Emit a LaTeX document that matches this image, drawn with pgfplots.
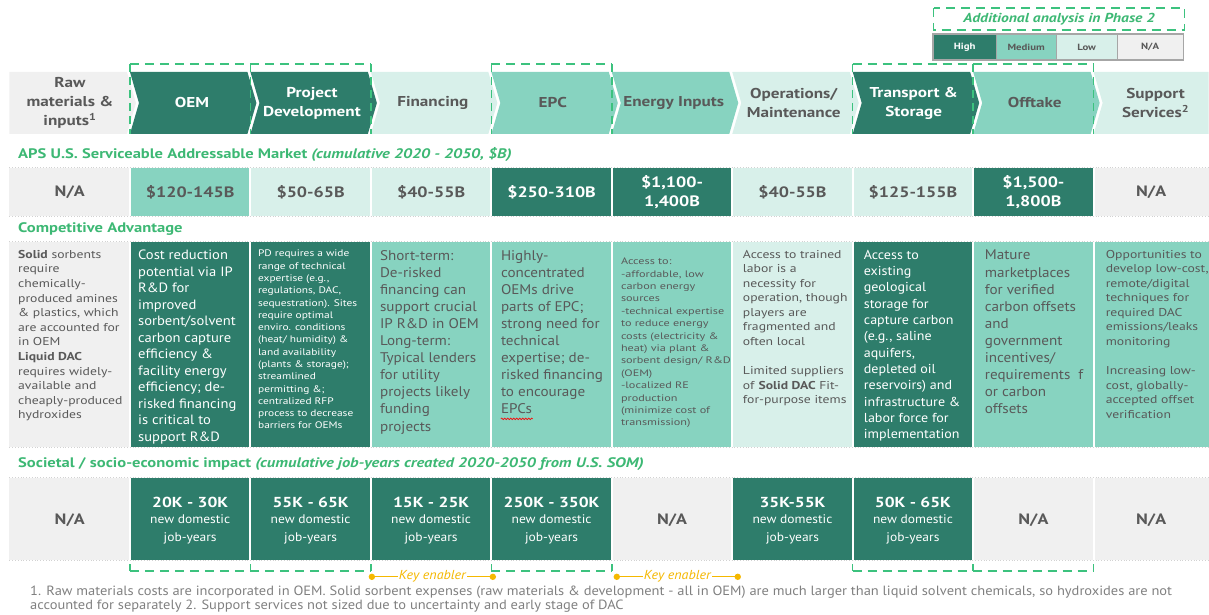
\documentclass[border=0pt]{standalone}
\usepackage{pgfplots}
\pgfplotsset{compat=1.18}
\usepackage{fontspec}
\setmainfont{PT Sans}[FakeStretch=1.08]
\newfontfamily\wf{PT Sans}[FakeStretch=1.2]
\newfontfamily\wwf{PT Sans}[FakeStretch=1.3]
\usetikzlibrary{decorations.pathmorphing}
\definecolor{dk}{HTML}{2E7D6B}
\definecolor{md}{HTML}{87D3C0}
\definecolor{lt}{HTML}{D8F0EA}
\definecolor{gy}{HTML}{F0F0F0}
\definecolor{tx}{HTML}{595959}
\definecolor{gr}{HTML}{3DB874}
\definecolor{dsh}{HTML}{3CC27E}
\definecolor{orng}{HTML}{F5B800}
\definecolor{fn}{HTML}{808080}

\newcommand{\cell}[5]{\fill[#5] (axis cs:#1,#3) rectangle (axis cs:#2,#4);}
\newcommand{\chev}[3]{\fill[#3] (axis cs:#1,72) -- (axis cs:{#2-3},72) -- (axis cs:{#2+6},103) -- (axis cs:{#2-3},134) -- (axis cs:#1,134) -- (axis cs:{#1+9},103) -- cycle;}
\newcommand{\chevtext}[3]{\node[inner sep=0, align=center, text=#2, font=\wf\bfseries\fontsize{14.3}{19}\selectfont] at (axis cs:#1,103) {#3};}
\newcommand{\samtext}[3]{\node[inner sep=0, align=center, text=#2, font=\wf\bfseries\fontsize{15}{19}\selectfont] at (axis cs:#1,192) {#3};}
\newcommand{\jobs}[2]{\node[inner sep=0, text=white, font=\wf\bfseries\fontsize{14.5}{18}\selectfont] at (axis cs:#1,503) {#2};
\node[inner sep=0, text=white, align=center, font=\fontsize{12.5}{18}\selectfont] at (axis cs:#1,530) {new domestic\\job-years};}
\newcommand{\na}[2]{\node[inner sep=0, text=tx, font=\wf\bfseries\fontsize{15}{19}\selectfont] at (axis cs:#1,#2) {N/A};}
\newcommand{\vd}[1]{\draw[dsh, line width=1.4pt, dash pattern=on 8pt off 5pt] (axis cs:#1,64) -- (axis cs:#1,134);}
\newcommand{\bt}[1]{\draw[dsh, line width=1.4pt] (axis cs:#1,571) -- (axis cs:#1,564);}

\begin{document}
\begin{tikzpicture}
\begin{axis}[
  width=1209pt, height=615pt, scale only axis,
  xmin=0, xmax=1209, ymin=0, ymax=615, y dir=reverse,
  hide axis, clip=false]
\path (axis cs:0,0) rectangle (axis cs:1209,615);

% legend
\draw[dsh, line width=1.4pt, dash pattern=on 9pt off 6pt] (axis cs:934,8) rectangle (axis cs:1185,30);
\node[inner sep=0, text=gr, font=\wf\bfseries\itshape\fontsize{13}{15}\selectfont] at (axis cs:1059.5,19) {Additional analysis in Phase 2};
\fill[gray!70] (axis cs:932.5,33.5) rectangle (axis cs:1184.5,61);
\cell{934}{996}{35}{59.5}{dk}
\cell{997.5}{1056}{35}{59.5}{md}
\cell{1057.5}{1117}{35}{59.5}{lt}
\cell{1118.5}{1183}{35}{59.5}{gy}
\node[inner sep=0, text=white, font=\wf\bfseries\fontsize{9}{11}\selectfont] at (axis cs:965,47) {High};
\node[inner sep=0, text=tx, font=\wf\bfseries\fontsize{9}{11}\selectfont] at (axis cs:1026.5,47) {Medium};
\node[inner sep=0, text=tx, font=\wf\bfseries\fontsize{9}{11}\selectfont] at (axis cs:1087,47) {Low};
\node[inner sep=0, text=tx, font=\wf\bfseries\fontsize{9}{11}\selectfont] at (axis cs:1150.5,47) {N/A};

% chevrons
\fill[gy] (axis cs:9.5,72) -- (axis cs:127,72) -- (axis cs:136,103) -- (axis cs:127,134) -- (axis cs:9.5,134) -- cycle;
\chev{130}{250.5}{dk}
\chev{250.5}{371}{dk}
\chev{371}{491.5}{lt}
\chev{491.5}{612}{md}
\chev{612}{732.5}{md}
\chev{732.5}{853}{lt}
\chev{853}{973.5}{dk}
\chev{973.5}{1094}{md}
\fill[lt] (axis cs:1094,72) -- (axis cs:1209,72) -- (axis cs:1209,134) -- (axis cs:1094,134) -- (axis cs:1103,103) -- cycle;

% dashed group outlines
\vd{130}\vd{250.5}\vd{371}\vd{491.5}\vd{612}\vd{853}\vd{973.5}\vd{1094}
\begin{scope}[dsh, line width=1.4pt, dash pattern=on 9pt off 6pt]
\draw (axis cs:130,64) -- (axis cs:371,64);
\draw (axis cs:491.5,64) -- (axis cs:612,64);
\draw (axis cs:853,64) -- (axis cs:1094,64);
\draw (axis cs:130,571) -- (axis cs:371,571);
\draw (axis cs:491.5,571) -- (axis cs:612,571);
\draw (axis cs:853,571) -- (axis cs:1094,571);
\end{scope}
\bt{130}\bt{250.5}\bt{371}\bt{491.5}\bt{612}\bt{853}\bt{973.5}\bt{1094}

\chevtext{70}{tx}{Raw\\materials \&\\inputs\textsuperscript{1}}
\chevtext{192}{white}{OEM}
\chevtext{312}{white}{Project\\Development}
\chevtext{433}{tx}{Financing}
\chevtext{553}{tx}{EPC}
\chevtext{674}{tx}{Energy Inputs}
\chevtext{794}{tx}{Operations/\\Maintenance}
\chevtext{914}{white}{Transport \&\\Storage}
\chevtext{1035}{tx}{Offtake}
\chevtext{1156}{tx}{Support\\Services\textsuperscript{2}}

% headings
\node[inner sep=0, anchor=west, text=gr, font=\wf\bfseries\fontsize{13.8}{16}\selectfont] at (axis cs:18,155) {APS U.S. Serviceable Addressable Market \textit{(cumulative 2020 - 2050, \$B)}};
\node[inner sep=0, anchor=west, text=gr, font=\wf\bfseries\fontsize{13.8}{16}\selectfont] at (axis cs:18,229) {Competitive Advantage};
\node[inner sep=0, anchor=west, text=gr, font=\wf\bfseries\fontsize{13.8}{16}\selectfont] at (axis cs:18,464) {Societal / socio-economic impact \textit{(cumulative job-years created 2020-2050 from U.S. SOM)}};

% row borders
\begin{scope}[gray!35, line width=0.8pt, dotted]
\draw (axis cs:9.5,167.5) -- (axis cs:1209,167.5);
\draw (axis cs:9.5,216.5) -- (axis cs:1209,216.5);
\draw (axis cs:9.5,241.5) -- (axis cs:1209,241.5);
\draw (axis cs:9.5,447.5) -- (axis cs:1209,447.5);
\draw (axis cs:9.5,477.5) -- (axis cs:1209,477.5);
\draw (axis cs:9.5,560.5) -- (axis cs:1209,560.5);
\end{scope}

% SAM row
\cell{9.5}{129}{168}{216}{gy}
\cell{131}{249.5}{168}{216}{md}
\cell{251.5}{370}{168}{216}{lt}
\cell{372}{490.5}{168}{216}{lt}
\cell{492.5}{611}{168}{216}{dk}
\cell{613}{731.5}{168}{216}{dk}
\cell{733.5}{852}{168}{216}{lt}
\cell{854}{972.5}{168}{216}{lt}
\cell{974.5}{1093}{168}{216}{dk}
\cell{1095}{1209}{168}{216}{gy}
\samtext{69.75}{tx}{N/A}
\samtext{190.25}{tx}{\$120-145B}
\samtext{310.75}{tx}{\$50-65B}
\samtext{431.25}{tx}{\$40-55B}
\samtext{551.75}{white}{\$250-310B}
\samtext{672.25}{white}{\$1,100-\\1,400B}
\samtext{792.75}{tx}{\$40-55B}
\samtext{913.25}{tx}{\$125-155B}
\samtext{1033.75}{white}{\$1,500-\\1,800B}
\samtext{1151.5}{tx}{N/A}

% Competitive advantage row
\cell{9.5}{129}{242}{447}{gy}
\cell{131}{249.5}{242}{447}{dk}
\cell{251.5}{370}{242}{447}{dk}
\cell{372}{490.5}{242}{447}{md}
\cell{492.5}{611}{242}{447}{md}
\cell{613}{731.5}{242}{447}{md}
\cell{733.5}{852}{242}{447}{lt}
\cell{854}{972.5}{242}{447}{dk}
\cell{974.5}{1093}{242}{447}{md}
\cell{1095}{1209}{242}{447}{md}

\node[inner sep=0, anchor=north west, align=left, text=tx, font=\wf\fontsize{11.4}{14.6}\selectfont] at (axis cs:18,250) {\textbf{Solid} sorbents\\require\\chemically-\\produced amines\\\& plastics, which\\are accounted for\\in OEM\\\textbf{Liquid DAC}\\requires widely-\\available and\\cheaply-produced\\hydroxides};
\node[inner sep=0, anchor=north west, align=left, text=white, font=\fontsize{13.5}{16.5}\selectfont] at (axis cs:138,250) {Cost reduction\\potential via IP\\R\&D for\\improved\\sorbent/solvent\\carbon capture\\efficiency \&\\facility energy\\efficiency; de-\\risked financing\\is critical to\\support R\&D};
\node[inner sep=0, anchor=north west, align=left, text=white, font=\wf\fontsize{9.5}{12.3}\selectfont] at (axis cs:258,250) {PD requires a wide\\range of technical\\expertise (e.g.,\\regulations, DAC,\\sequestration). Sites\\require optimal\\enviro. conditions\\(heat/ humidity) \&\\land availability\\(plants \& storage);\\streamlined\\permitting \&;\\centralized RFP\\process to decrease\\barriers for OEMs};
\node[inner sep=0, anchor=north west, align=left, text=tx, font=\fontsize{14}{17.1}\selectfont] at (axis cs:380,250) {Short-term:\\De-risked\\financing can\\support crucial\\IP R\&D in OEM\\Long-term:\\Typical lenders\\for utility\\projects likely\\funding\\projects};
\node[inner sep=0, anchor=north west, align=left, text=tx, font=\fontsize{14}{17.1}\selectfont] at (axis cs:501,250) {Highly-\\concentrated\\OEMs drive\\parts of EPC;\\strong need for\\technical\\expertise; de-\\risked financing\\to encourage\\EPCs};
\draw[red, line width=0.6pt, decorate, decoration={snake, amplitude=0.8pt, segment length=3pt}] (axis cs:501,419) -- (axis cs:533,419);
\node[inner sep=0, anchor=north west, align=left, text=tx, font=\wwf\fontsize{9.4}{12.4}\selectfont] at (axis cs:621,258) {Access to:\\-affordable, low\\carbon energy\\sources\\-technical expertise\\to reduce energy\\costs (electricity \&\\heat) via plant \&\\sorbent design/ R\&D\\(OEM)\\-localized RE\\production\\(minimize cost of\\transmission)};
\node[inner sep=0, anchor=north west, align=left, text=tx, font=\wf\fontsize{11.4}{14.5}\selectfont] at (axis cs:743,250) {Access to trained\\labor is a\\necessity for\\operation, though\\players are\\fragmented and\\often local\\[15pt]Limited suppliers\\of \textbf{Solid DAC} Fit-\\for-purpose items};
\node[inner sep=0, anchor=north west, align=left, text=white, font=\fontsize{13}{16.3}\selectfont] at (axis cs:864,250) {Access to\\existing\\geological\\storage for\\capture carbon\\(e.g., saline\\aquifers,\\depleted oil\\reservoirs) and\\infrastructure \&\\labor force for\\implementation};
\node[inner sep=0, anchor=north west, align=left, text=tx, font=\fontsize{14}{17.1}\selectfont] at (axis cs:985,250) {Mature\\marketplaces\\for verified\\carbon offsets\\and\\government\\incentives/\\requirements~~f\\or carbon\\offsets};
\node[inner sep=0, anchor=north west, align=left, text=tx, font=\wf\fontsize{11.4}{14.5}\selectfont] at (axis cs:1106,250) {Opportunities to\\develop low-cost,\\remote/digital\\techniques for\\required DAC\\emissions/leaks\\monitoring\\[15pt]Increasing low-\\cost, globally-\\accepted offset\\verification};

% Jobs row
\cell{9.5}{129}{478}{560}{gy}
\cell{131}{249.5}{478}{560}{dk}
\cell{251.5}{370}{478}{560}{dk}
\cell{372}{490.5}{478}{560}{dk}
\cell{492.5}{611}{478}{560}{dk}
\cell{613}{731.5}{478}{560}{gy}
\cell{733.5}{852}{478}{560}{dk}
\cell{854}{972.5}{478}{560}{dk}
\cell{974.5}{1093}{478}{560}{gy}
\cell{1095}{1209}{478}{560}{gy}
\na{69.75}{520}
\jobs{190.25}{20K - 30K}
\jobs{310.75}{55K - 65K}
\jobs{431.25}{15K - 25K}
\jobs{551.75}{250K - 350K}
\na{672.25}{520}
\jobs{792.75}{35K-55K}
\jobs{913.25}{50K - 65K}
\na{1033.75}{520}
\na{1151.5}{520}

% key enablers
\draw[orng, line width=1.3pt] (axis cs:372,577) -- (axis cs:493,577);
\fill[orng] (axis cs:372,577) circle[radius=3.2pt];
\fill[orng] (axis cs:493,577) circle[radius=3.2pt];
\node[fill=white, inner xsep=1pt, inner ysep=0.5pt, text=orng, font=\itshape\fontsize{13}{14}\selectfont] at (axis cs:432.5,576.5) {Key enabler};
\draw[orng, line width=1.3pt] (axis cs:617,577) -- (axis cs:738,577);
\fill[orng] (axis cs:617,577) circle[radius=3.2pt];
\fill[orng] (axis cs:738,577) circle[radius=3.2pt];
\node[fill=white, inner xsep=1pt, inner ysep=0.5pt, text=orng, font=\itshape\fontsize{13}{14}\selectfont] at (axis cs:677.5,576.5) {Key enabler};

% footnote
\node[inner sep=0, anchor=west, text=fn, font=\fontsize{13.4}{14}\selectfont] at (axis cs:30,592) {1. Raw materials costs are incorporated in OEM. Solid sorbent expenses (raw materials \& development - all in OEM) are much larger than liquid solvent chemicals, so hydroxides are not};
\node[inner sep=0, anchor=west, text=fn, font=\fontsize{13.4}{14}\selectfont] at (axis cs:30,606) {accounted for separately 2. Support services not sized due to uncertainty and early stage of DAC};
\end{axis}
\end{tikzpicture}
\end{document}
